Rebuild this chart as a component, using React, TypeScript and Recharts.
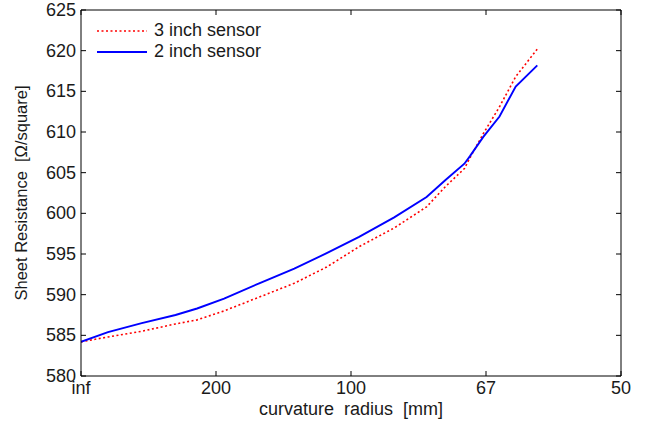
import React from 'react';
import { LineChart, Line, XAxis, YAxis, Legend } from 'recharts';

// curvature = 1 / radius [1/mm]
const curvature = [
  0, 0.001, 0.00225, 0.0035, 0.0043, 0.0053, 0.0066, 0.0079, 0.0091, 0.0103,
  0.0116, 0.0128, 0.0135, 0.0142, 0.0144, 0.0149, 0.0155, 0.0161, 0.0169,
];
const sensor3in = [
  584.2, 584.8, 585.5, 586.4, 586.9, 588.0, 589.7, 591.4, 593.4, 595.9,
  598.2, 600.8, 603.3, 605.5, 606.8, 609.8, 613.1, 616.8, 620.2,
];
const sensor2in = [
  584.2, 585.4, 586.5, 587.5, 588.3, 589.5, 591.4, 593.2, 595.1, 597.1,
  599.5, 602.0, 604.1, 606.1, 607.0, 609.4, 611.9, 615.6, 618.2,
];
const seriesNames = ['3 inch sensor', '2 inch sensor'];

const xTicks = [0, 0.005, 0.01, 0.015, 0.02];
const xTickLabels = ['inf', '200', '100', '67', '50'];
const yTicks = [580, 585, 590, 595, 600, 605, 610, 615, 620, 625];

const data = curvature.map((c, i) => ({
  c,
  s3: sensor3in[i],
  s2: sensor2in[i],
}));

const FONT = '"Liberation Sans", Arial, sans-serif';
const TEXT = '#1a1a1a';
const FS = 18;
const textStyle = { fontSize: FS, fill: TEXT, fontFamily: FONT };

// matlab style ticks: pointing into the plot box
const makeTick = (side: string, withLabel: boolean) => (props: any) => {
  const { x, y, payload } = props;
  const s = 5;
  let dx = 0;
  let dy = 0;
  if (side === 'bottom') dy = -s;
  if (side === 'top') dy = s;
  if (side === 'left') dx = s;
  if (side === 'right') dx = -s;
  let label = null;
  if (withLabel && side === 'bottom') {
    label = (
      <text x={x} y={y + 18} textAnchor="middle" style={textStyle}>
        {xTickLabels[xTicks.indexOf(payload.value)] ?? ''}
      </text>
    );
  }
  if (withLabel && side === 'left') {
    label = (
      <text x={x - 5} y={y} textAnchor="end" dominantBaseline="central" style={textStyle}>
        {payload.value}
      </text>
    );
  }
  return (
    <g>
      <line x1={x} y1={y} x2={x + dx} y2={y + dy} stroke="#000" strokeWidth={1} />
      {label}
    </g>
  );
};

function LegendBox({ payload }: any) {
  const items = [...(payload || [])].sort(
    (a: any, b: any) => seriesNames.indexOf(a.value) - seriesNames.indexOf(b.value),
  );
  return (
    <div style={{ fontFamily: FONT, fontSize: FS, color: TEXT, lineHeight: '21px' }}>
      {items.map((p: any) => (
        <div key={p.value} style={{ display: 'flex', alignItems: 'center', height: 21 }}>
          <svg width={50} height={6} style={{ marginRight: 7 }}>
            <line
              x1={0}
              x2={50}
              y1={3}
              y2={3}
              stroke={p.color}
              strokeWidth={p.payload?.strokeDasharray ? 1.6 : 1.8}
              strokeDasharray={p.payload?.strokeDasharray}
            />
          </svg>
          <span>{p.value}</span>
        </div>
      ))}
    </div>
  );
}

export default function App() {
  return (
    <div style={{ position: 'absolute', left: 0, top: 0, background: '#fff' }}>
      <LineChart width={648} height={421} data={data} margin={{ top: 9, right: 26, left: 0, bottom: 0 }}>
        <XAxis
          xAxisId="b"
          dataKey="c"
          type="number"
          domain={[0, 0.02]}
          allowDataOverflow
          ticks={xTicks}
          height={45}
          tickSize={0}
          tickMargin={0}
          tickLine={false}
          tick={makeTick('bottom', true)}
          stroke="#000"
          interval={0}
          label={{
            content: ({ viewBox }: any) => (
              <text
                x={viewBox.x + viewBox.width / 2}
                y={viewBox.y + 39}
                textAnchor="middle"
                style={{ ...textStyle, whiteSpace: 'pre' }}
              >
                {'curvature  radius  [mm]'}
              </text>
            ),
          }}
        />
        <XAxis
          xAxisId="t"
          orientation="top"
          dataKey="c"
          type="number"
          domain={[0, 0.02]}
          allowDataOverflow
          ticks={xTicks}
          height={1}
          tickSize={0}
          tickMargin={0}
          tickLine={false}
          tick={makeTick('top', false)}
          stroke="#000"
          interval={0}
        />
        <YAxis
          yAxisId="l"
          type="number"
          domain={[580, 625]}
          allowDataOverflow
          ticks={yTicks}
          width={81}
          tickSize={0}
          tickMargin={0}
          tickLine={false}
          tick={makeTick('left', true)}
          stroke="#000"
          interval={0}
          label={{
            content: ({ viewBox }: any) => {
              const x = viewBox.x + 21;
              const y = viewBox.y + viewBox.height / 2;
              return (
                <text
                  x={x}
                  y={y}
                  transform={`rotate(-90, ${x}, ${y})`}
                  textAnchor="middle"
                  dominantBaseline="central"
                  style={{ ...textStyle, fontSize: 16.5, whiteSpace: 'pre' }}
                >
                  {'Sheet Resistance  [\u03A9/square]'}
                </text>
              );
            },
          }}
        />
        <YAxis
          yAxisId="r"
          orientation="right"
          type="number"
          domain={[580, 625]}
          allowDataOverflow
          ticks={yTicks}
          width={1}
          tickSize={0}
          tickMargin={0}
          tickLine={false}
          tick={makeTick('right', false)}
          stroke="#000"
          interval={0}
        />
        <Legend
          layout="horizontal"
          verticalAlign="middle"
          content={<LegendBox />}
          wrapperStyle={{ left: 97, top: 20, width: 'auto', height: 'auto' }}
        />
        <Line
          xAxisId="t"
          yAxisId="r"
          dataKey="s3"
          name={seriesNames[0]}
          type="linear"
          stroke="#ff0000"
          strokeWidth={1.6}
          strokeDasharray="2 2.5"
          dot={false}
          isAnimationActive={false}
        />
        <Line
          xAxisId="b"
          yAxisId="l"
          dataKey="s2"
          name={seriesNames[1]}
          type="linear"
          stroke="#0000ff"
          strokeWidth={1.9}
          dot={false}
          isAnimationActive={false}
        />
      </LineChart>
    </div>
  );
}
